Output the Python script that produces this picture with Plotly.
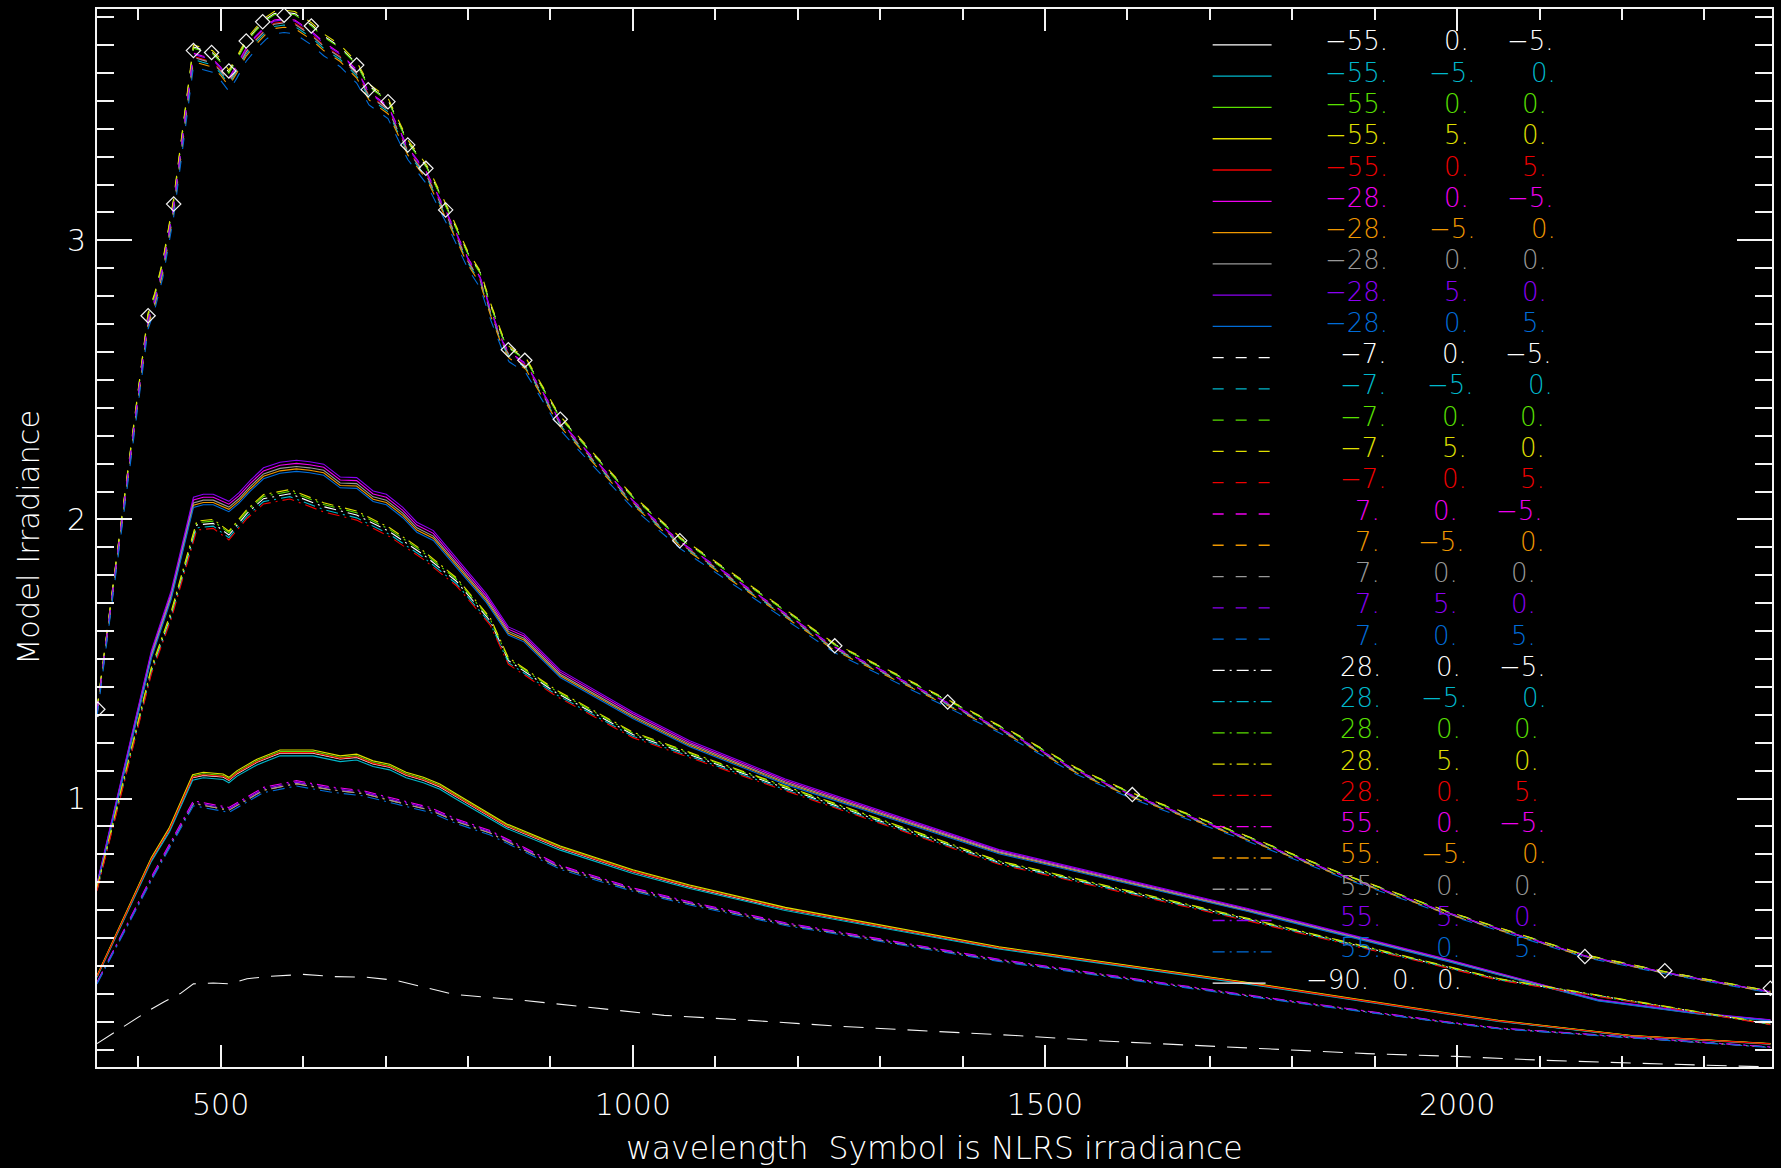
import plotly.graph_objects as go

# ---------------- data ----------------
# near-zenith dashed group (zenith -7 / 7), upper envelope
wl_top = [350, 375, 400, 412, 420, 430, 443, 455, 467, 478, 490, 500, 510, 520, 531, 542, 555, 565, 577, 590,
          610, 625, 645, 665, 680, 703, 727, 750, 775, 800, 815, 828, 842, 850, 870, 884, 912, 953, 1000, 1058,
          1139, 1245, 1324, 1382, 1463, 1538, 1606, 1746, 1866, 1987, 2050, 2155, 2252, 2380]
irr_top = [1.32, 1.90, 2.46, 2.74, 2.81, 2.93, 3.15, 3.42, 3.70, 3.69, 3.68, 3.65, 3.61, 3.66, 3.72, 3.76, 3.80, 3.82, 3.825, 3.82,
           3.78, 3.74, 3.70, 3.64, 3.56, 3.51, 3.36, 3.27, 3.12, 2.96, 2.89, 2.77, 2.66, 2.62, 2.58, 2.51, 2.37, 2.235, 2.085, 1.935,
           1.77, 1.555, 1.44, 1.355, 1.235, 1.11, 1.02, 0.865, 0.725, 0.597, 0.538, 0.44, 0.38, 0.31]

# solid zenith -28 group, upper envelope
wl_m28 = [350, 416, 440, 467, 479, 491, 510, 522, 536, 552, 572, 592, 608, 625, 645, 665, 685, 701, 721, 738,
          758, 778, 802, 822, 849, 868, 912, 1000, 1069, 1185, 1444, 1746, 1987, 2050, 2171, 2292, 2380]
irr_m28 = [0.695, 1.53, 1.745, 2.08, 2.09, 2.09, 2.065, 2.095, 2.14, 2.185, 2.205, 2.212, 2.207, 2.198, 2.152, 2.15, 2.102, 2.09, 2.043, 1.99,
           1.96, 1.89, 1.805, 1.735, 1.615, 1.59, 1.46, 1.31, 1.207, 1.07, 0.817, 0.606, 0.425, 0.375, 0.28, 0.232, 0.207]

# dash-dot zenith 28 group, upper envelope
wl_p28 = [350, 416, 440, 471, 491, 510, 532, 552, 584, 625, 665, 705, 746, 786, 827, 849, 907, 1000, 1116, 1444,
          1746, 1987, 2050, 2380]
irr_p28 = [0.68, 1.47, 1.67, 1.994, 2.0, 1.958, 2.036, 2.089, 2.107, 2.06, 2.03, 1.97, 1.887, 1.791, 1.648, 1.505, 1.389, 1.238, 1.116, 0.777,
           0.571, 0.40, 0.355, 0.193]

# solid zenith -55 group, upper envelope
wl_m55 = [350, 416, 438, 466, 479, 503, 510, 520, 544, 572, 612, 625, 645, 665, 685, 705, 725, 746, 766, 786,
          827, 847, 912, 1000, 1069, 1185, 1444, 1746, 1987, 2050, 2211, 2380]
irr_m55 = [0.366, 0.789, 0.897, 1.085, 1.094, 1.088, 1.076, 1.10, 1.141, 1.174, 1.174, 1.165, 1.153, 1.159, 1.135, 1.123, 1.094, 1.076, 1.052, 1.016,
           0.945, 0.909, 0.83, 0.745, 0.69, 0.61, 0.469, 0.341, 0.232, 0.205, 0.151, 0.122]

# dash-dot zenith 55 group, upper envelope
wl_p55 = [350, 418, 467, 510, 552, 592, 633, 673, 713, 754, 786, 827, 912, 1000, 1069, 1185, 1444, 1746, 1987, 2050, 2380]
irr_p55 = [0.342, 0.73, 0.992, 0.968, 1.040, 1.064, 1.042, 1.028, 0.998, 0.968, 0.927, 0.885, 0.76, 0.68, 0.63, 0.555, 0.424, 0.296, 0.20, 0.178, 0.110]

# zenith -90 (long dashes)
wl_z90 = [350, 390, 410, 431, 451, 467, 491, 511, 532, 556, 600, 637, 677, 713, 783, 867, 941, 1038, 1144, 1251,
          1358, 1464, 1571, 1678, 1785, 1891, 1998, 2105, 2212, 2318, 2380]
irr_z90 = [0.122, 0.199, 0.235, 0.271, 0.301, 0.336, 0.339, 0.336, 0.354, 0.362, 0.370, 0.362, 0.360, 0.348, 0.298, 0.277, 0.253, 0.223, 0.205, 0.184,
           0.167, 0.151, 0.131, 0.116, 0.100, 0.086, 0.076, 0.062, 0.052, 0.044, 0.038]

# NLRS irradiance (diamond symbols)
wl_nlrs = [351, 412, 443, 467, 489, 510, 531, 551, 577, 610, 665, 679, 703, 727, 749, 773, 849, 869, 912, 1057,
           1245, 1382, 1606, 2155, 2252, 2380]
irr_nlrs = [1.32, 2.73, 3.13, 3.68, 3.673, 3.607, 3.714, 3.783, 3.807, 3.768, 3.628, 3.54, 3.497, 3.342, 3.258, 3.109, 2.608, 2.57, 2.359, 1.924,
            1.547, 1.346, 1.014, 0.434, 0.383, 0.32]

# legend rows: zenith angle and two tilt offsets
zenith = [-55] * 5 + [-28] * 5 + [-7] * 5 + [7] * 5 + [28] * 5 + [55] * 5
tilt_a = [0, -5, 0, 5, 0] * 6
tilt_b = [-5, 0, 0, 0, 5] * 6
palette = ["#FFFFFF", "#00B8CC", "#5AE000", "#E0E000", "#F00000",
           "#F000F0", "#F09800", "#999999", "#8C00F4", "#006CD8"]
# relative level of each series inside its group (read from the spread of the bundles)
spread = [0.990, 0.982, 0.995, 1.000, 0.992,
          0.995, 0.986, 0.990, 1.000, 0.982,
          0.998, 0.986, 0.997, 1.000, 0.989,
          0.992, 0.984, 0.988, 0.991, 0.979,
          0.993, 0.988, 0.997, 1.000, 0.984,
          1.000, 0.990, 0.990, 0.995, 0.982]

groups = {-55: (wl_m55, irr_m55), -28: (wl_m28, irr_m28), -7: (wl_top, irr_top),
          7: (wl_top, irr_top), 28: (wl_p28, irr_p28), 55: (wl_p55, irr_p55)}

# ---------------- geometry / style ----------------
W, H = 1781, 1168
L, R, T, B = 97, 1774, 7, 1067
FG = "#F4F4F4"
TXT = "#FFFFFF"
FONT = "DejaVu Sans, sans-serif"
WEIGHT = 200
DASH = {"solid": "solid", "dash": "11px,12px", "dashdot": "12px,5px,2px,5px", "long": "20px,12px"}
styles = ["solid"] * 10 + ["dash"] * 10 + ["dashdot"] * 10


def px_to_paper_x(px):
    return (px - L) / (R - L)


def px_to_paper_y(py):
    return (B - py) / (B - T)


fig = go.Figure()
for i, z in enumerate(zenith):
    wl, irr = groups[z]
    fig.add_trace(go.Scatter(
        x=wl, y=[v * spread[i] for v in irr], mode="lines",
        line=dict(color=palette[i % 10], width=1.1, dash=DASH[styles[i]]),
        hoverinfo="skip"))
fig.add_trace(go.Scatter(x=wl_z90, y=irr_z90, mode="lines",
                         line=dict(color=FG, width=1.1, dash=DASH["long"]), hoverinfo="skip"))
fig.add_trace(go.Scatter(x=wl_nlrs, y=irr_nlrs, mode="markers",
                         marker=dict(symbol="diamond-open", size=11, color=FG, line=dict(width=1.2, color=FG)),
                         hoverinfo="skip"))

# ---------------- legend (drawn like the original) ----------------
CW = {" ": 16.5, "-": 25.0, ".": 9.5}


def tokens(s, x0):
    out, x, cur, cx = [], x0, "", None
    for ch in s:
        if ch == " ":
            if cur:
                out.append((cur, cx, x - cx))
                cur = ""
        else:
            if not cur:
                cx = x
            cur += ch
        x += CW.get(ch, 19.0)
    if cur:
        out.append((cur, cx, x - cx))
    return out


rows = []
for i in range(30):
    s = f"{zenith[i]:5.0f}." + f"{tilt_a[i]:4.0f}." + f"{tilt_b[i]:4.0f}."
    rows.append((s, 1287, palette[i % 10], DASH[styles[i]]))
rows.append(("-90. 0. 0.", 1301, TXT, "solid"))

annotations = []
shapes = []
for r, (s, x0, col, dash) in enumerate(rows):
    ypx = 43 + r * 31.33
    yp = px_to_paper_y(ypx)
    shapes.append(dict(type="line", xref="paper", yref="paper",
                       x0=px_to_paper_x(1214), x1=px_to_paper_x(1273 if r < 30 else 1267), y0=yp, y1=yp,
                       line=dict(color=col, width=1.3, dash=dash)))
    for txt, tx, tw in tokens(s, x0):
        annotations.append(dict(x=px_to_paper_x(tx + tw / 2 + 2), y=px_to_paper_y(ypx - 3.5),
                                xref="paper", yref="paper",
                                xanchor="center", yanchor="middle", showarrow=False, borderpad=0,
                                text=txt.replace("-", "\u2212"),
                                font=dict(family=FONT, size=26, color=col, weight=WEIGHT)))

annotations.append(dict(x=0.5, y=px_to_paper_y(1148), xref="paper", yref="paper", showarrow=False,
                        xanchor="center", yanchor="middle",
                        text="wavelength \u00a0Symbol is NLRS irradiance",
                        font=dict(family=FONT, size=31.5, color=TXT, weight=WEIGHT)))
annotations.append(dict(x=px_to_paper_x(28), y=0.5, xref="paper", yref="paper", showarrow=False,
                        xanchor="center", yanchor="middle", textangle=-90,
                        text="Model Irradiance",
                        font=dict(family=FONT, size=30.5, color=TXT, weight=WEIGHT)))

axis_common = dict(showline=True, linecolor=FG, linewidth=2, mirror="allticks", ticks="inside",
                   tickcolor=FG, tickwidth=1.6, showgrid=False, zeroline=False,
                   tickfont=dict(family=FONT, size=30, color=TXT, weight=WEIGHT))

fig.update_layout(
    width=W, height=H, showlegend=False,
    paper_bgcolor="black", plot_bgcolor="black",
    margin=dict(l=L, r=W - R, t=T, b=H - B, pad=0),
    xaxis=dict(range=[350, 2382], tick0=0, dtick=500, ticklen=22, ticklabelstandoff=10,
               minor=dict(ticks="inside", dtick=100, ticklen=11, tickcolor=FG, tickwidth=1.6),
               **axis_common),
    yaxis=dict(range=[0.038, 3.829], tick0=0, dtick=1, ticklen=35, ticklabelstandoff=3,
               minor=dict(ticks="inside", dtick=0.1, ticklen=17, tickcolor=FG, tickwidth=1.6),
               **axis_common),
    annotations=annotations, shapes=shapes,
)

fig.write_html("out.html", config={"displayModeBar": False},
               post_script="document.body.style.margin='0';")
